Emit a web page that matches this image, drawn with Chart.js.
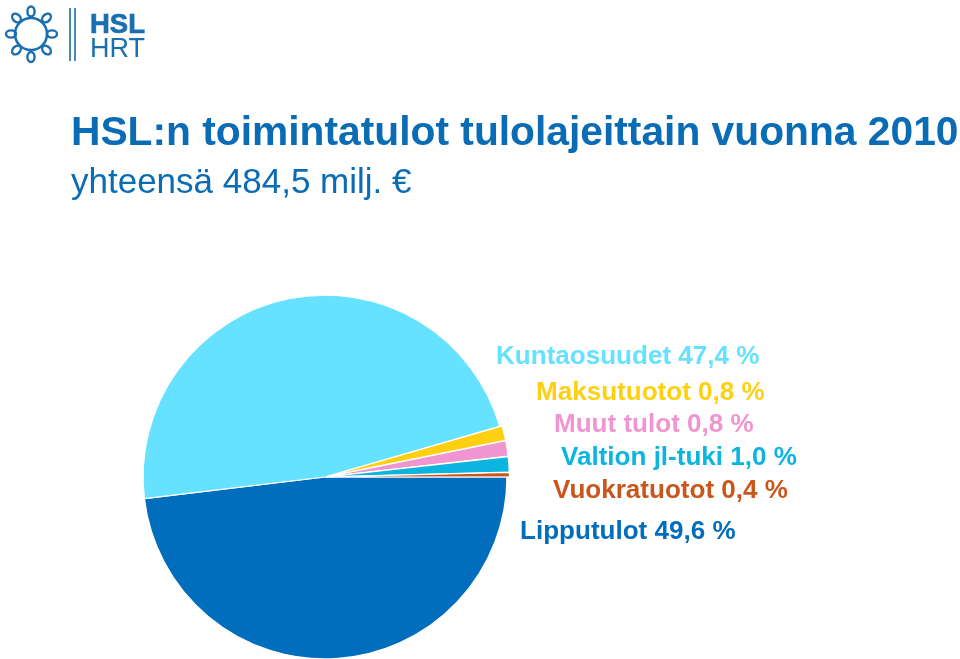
<!DOCTYPE html>
<html><head><meta charset="utf-8">
<script src="https://cdn.jsdelivr.net/npm/chart.js@4"></script>
<style>
html,body{margin:0;padding:0;background:#fff;width:960px;height:659px;overflow:hidden}
body{position:relative;font-family:"Liberation Sans",Arial,sans-serif}
canvas{position:absolute;left:0;top:0}
.t{position:absolute;white-space:nowrap;line-height:1}
.l{font-size:26.05px;font-weight:bold}
</style></head><body>
<div style="position:absolute;left:0;top:0;width:960px;height:700px"><canvas id="c"></canvas></div>
<svg style="position:absolute;left:0;top:0" width="160" height="70" fill="none" stroke="#1a6fb0">
 <circle cx="31" cy="34" r="16" stroke-width="2.6"/>
 <g stroke-width="2.4">
 <ellipse cx="31" cy="11.5" rx="3.6" ry="5"/><ellipse cx="31" cy="57" rx="3.6" ry="5"/>
 <ellipse cx="11" cy="34" rx="5" ry="3.6"/><ellipse cx="52" cy="34" rx="5" ry="3.6"/>
 <ellipse cx="16.5" cy="18" rx="3.6" ry="5" transform="rotate(-45 16.5 18)"/>
 <ellipse cx="46.5" cy="18" rx="3.6" ry="5" transform="rotate(45 46.5 18)"/>
 <ellipse cx="16.5" cy="50" rx="3.6" ry="5" transform="rotate(45 16.5 50)"/>
 <ellipse cx="46.5" cy="50" rx="3.6" ry="5" transform="rotate(-45 46.5 50)"/></g>
 <path d="M70 8V61M75 8V61" stroke-width="1.6"/>
</svg>
<div class="t" style="left:90px;top:10px;font-size:27.5px;font-weight:bold;color:#1a6fb0;-webkit-text-stroke:0.7px #1a6fb0">HSL</div>
<div class="t" style="left:90px;top:35px;font-size:27px;color:#1a6fb0">HRT</div>
<div class="t" style="left:71px;top:111px;font-size:40.75px;font-weight:bold;color:#0a6cb5">HSL:n toimintatulot tulolajeittain vuonna 2010</div>
<div class="t" style="left:71px;top:163px;font-size:35px;color:#0a6cb5">yhteensä 484,5 milj. €</div>
<div class="t l" style="left:496px;top:342px;color:#66E1FF">Kuntaosuudet 47,4 %</div>
<div class="t l" style="left:536px;top:378px;color:#FFD012">Maksutuotot 0,8 %</div>
<div class="t l" style="left:554px;top:410px;color:#F095D0">Muut tulot 0,8 %</div>
<div class="t l" style="left:561px;top:443px;color:#0CB4E0">Valtion jl-tuki 1,0 %</div>
<div class="t l" style="left:553px;top:476px;color:#C9561C">Vuokratuotot 0,4 %</div>
<div class="t l" style="left:520px;top:517px;color:#006EBC">Lipputulot 49,6 %</div>
<script>
const categories = ["Lipputulot","Kuntaosuudet","Maksutuotot","Muut tulot","Valtion jl-tuki","Vuokratuotot"];
const labelledPercent = [49.6,47.4,0.8,0.8,1.0,0.4];
const drawnShares = [48.1,47.4,1.33,1.38,1.38,0.41];
const sliceColors = ["#006EBC","#66E1FF","#FFD012","#F095D0","#0CB4E0","#C9561C"];
const sliceOffsets = [0,0,5,5,5,5];
new Chart(document.getElementById('c'),{
 type:'pie',
 data:{labels:categories,datasets:[{data:drawnShares,backgroundColor:sliceColors,borderColor:'#fff',borderWidth:1.2,offset:sliceOffsets}]},
 options:{responsive:true,maintainAspectRatio:false,animation:false,rotation:90,
  layout:{padding:{left:140,top:292,right:450,bottom:38}},
  plugins:{legend:{display:false},tooltip:{enabled:false}}}
});
</script>
</body></html>
